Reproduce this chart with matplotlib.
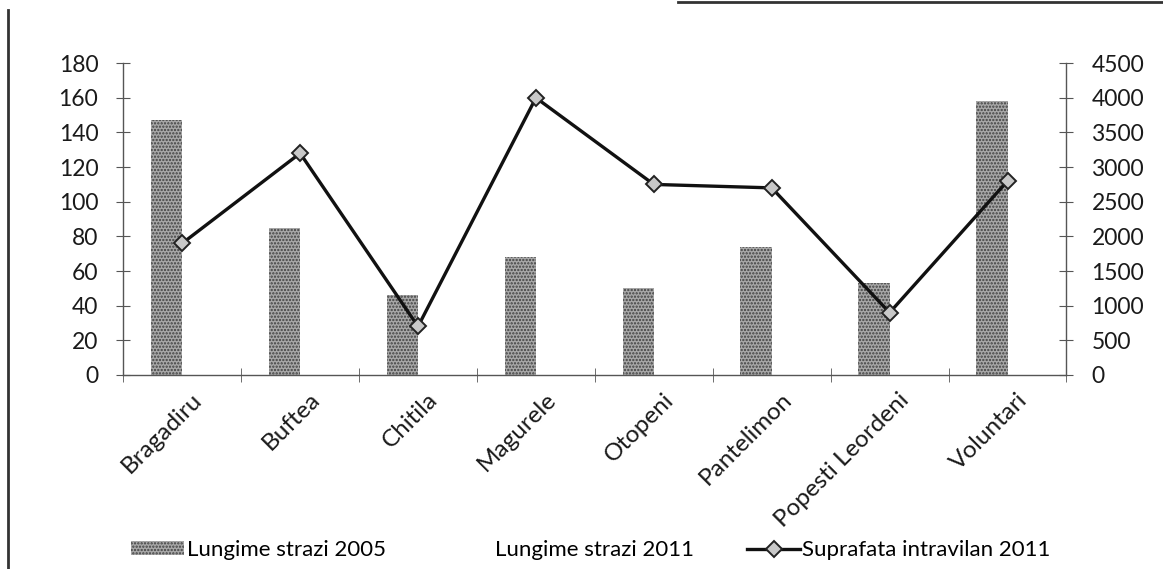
import numpy as np
import matplotlib
matplotlib.use("Agg")
import matplotlib.pyplot as plt
from matplotlib.lines import Line2D
from matplotlib.transforms import ScaledTranslation

plt.rcParams['font.family'] = ['Lato', 'DejaVu Sans']
plt.rcParams['hatch.linewidth'] = 1.1

orase = ['Bragadiru', 'Buftea', 'Chitila', 'Magurele', 'Otopeni',
         'Pantelimon', 'Popesti Leordeni', 'Voluntari']
strazi_2005 = [147, 85, 46, 68, 50, 74, 53, 158]
# 2011 street lengths are not shown as filled bars
strazi_2011 = [np.nan] * 8
intravilan_2011 = [1900, 3200, 700, 4000, 2750, 2700, 900, 2800]

fs = 16.5
axis_col = '#555555'
txt_col = '#1a1a1a'

fig = plt.figure(figsize=(11.63, 5.69), dpi=100)
ax = fig.add_axes([0.106, 0.341, 0.811, 0.548])
ax2 = ax.twinx()

x = np.arange(len(orase))
w = 0.265
ax.bar(x - w / 2, strazi_2005, w, facecolor='#a8a8a8', edgecolor='#404040',
       hatch='.....', linewidth=0, label='Lungime strazi 2005')
ax.bar(x + w / 2, strazi_2011, w, facecolor='white', edgecolor='white',
       linewidth=0, label='Lungime strazi 2011')

ax2.plot(x, intravilan_2011, color='#111111', lw=2.4, marker='D', ms=8,
         mfc='#c8c8c8', mec='#222222', mew=1.4, label='Suprafata intravilan 2011')

ax.set_xlim(-0.5, len(orase) - 0.5)
ax.set_ylim(0, 180)
ax.set_yticks(range(0, 181, 20))
ax2.set_ylim(0, 4500)
ax2.set_yticks(range(0, 4501, 500))

for a in (ax, ax2):
    for s in a.spines.values():
        s.set_visible(False)
ax.spines['left'].set_visible(True)
ax.spines['bottom'].set_visible(True)
ax2.spines['right'].set_visible(True)
for s in (ax.spines['left'], ax.spines['bottom'], ax2.spines['right']):
    s.set_color(axis_col)
    s.set_linewidth(1.0)

# category labels at centres, tick marks at category boundaries
ax.set_xticks(x)
ax.set_xticklabels(orase, rotation=45, ha='right', rotation_mode='anchor')
ax.set_xticks(np.arange(-0.5, len(orase)), minor=True)
ax.tick_params(axis='x', which='major', length=0, pad=10, labelsize=17.5,
               labelcolor=txt_col)
ax.tick_params(axis='x', which='minor', direction='inout', length=10,
               color=axis_col)
for lbl in ax.get_xticklabels():
    lbl.set_transform(lbl.get_transform() +
                      ScaledTranslation(9 / 100, 0, fig.dpi_scale_trans))

ax.tick_params(axis='y', direction='inout', length=10, color=axis_col,
               pad=13, labelsize=fs, labelcolor=txt_col)
ax2.tick_params(axis='y', direction='inout', length=10, color=axis_col,
                pad=13, labelsize=fs, labelcolor=txt_col)

h1, l1 = ax.get_legend_handles_labels()
h2, l2 = ax2.get_legend_handles_labels()
fig.legend(h1 + h2, l1 + l2, loc='center', bbox_to_anchor=(591 / 1163, 0.033),
           ncol=3, frameon=False, fontsize=16, handlelength=2.4,
           handletextpad=0.1, columnspacing=2.4, handleheight=0.6)

# page border lines
fig.add_artist(Line2D([8 / 1163, 8 / 1163], [0, 1 - 10 / 569],
                      transform=fig.transFigure, color='#333333', lw=2))
fig.add_artist(Line2D([678 / 1163, 1], [1 - 1.5 / 569, 1 - 1.5 / 569],
                      transform=fig.transFigure, color='#333333', lw=2))

fig.savefig('out.png', dpi=100)
